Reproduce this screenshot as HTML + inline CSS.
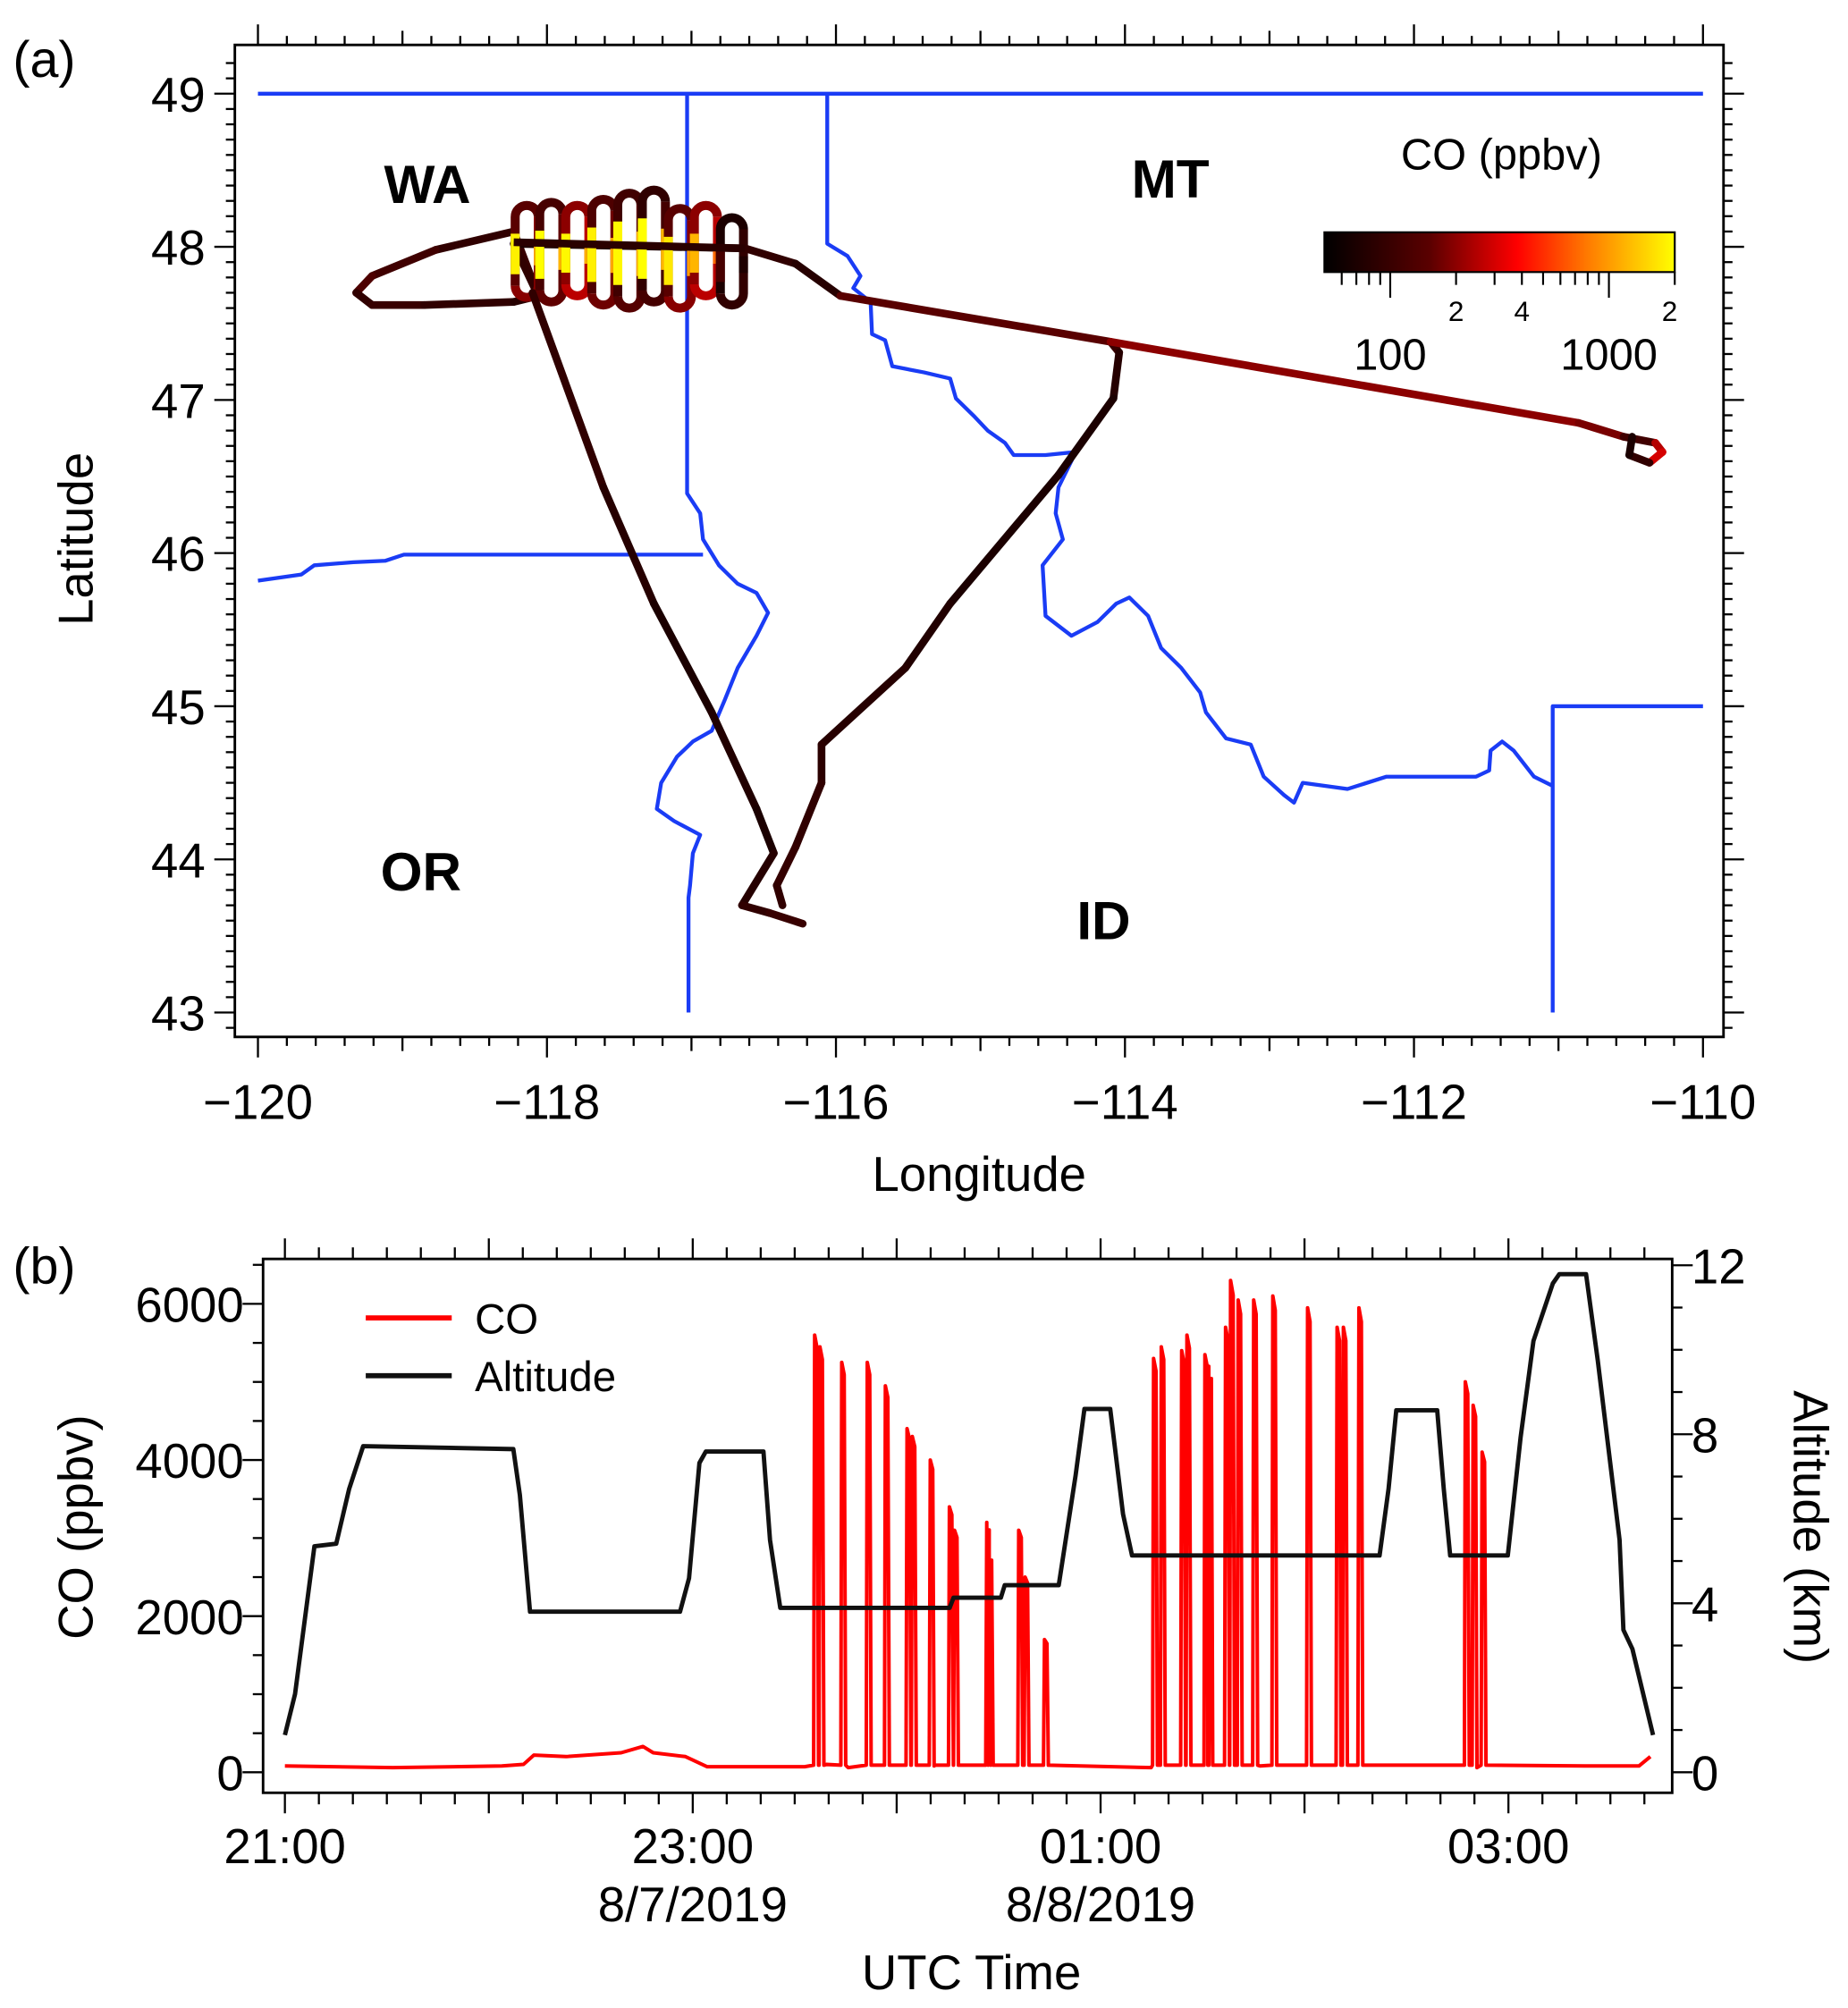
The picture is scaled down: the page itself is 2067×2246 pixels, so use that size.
<!DOCTYPE html>
<html><head><meta charset="utf-8"><style>
html,body{margin:0;padding:0;background:#fff;}
svg{display:block;font-family:"Liberation Sans",sans-serif;}
</style></head><body>
<svg id="fig" width="2067" height="2246" viewBox="0 0 1440 1564.7" xmlns="http://www.w3.org/2000/svg">
<rect width="1440" height="1564.7" fill="#fff"/>
<defs>
<linearGradient id="cmap" x1="0" x2="1" y1="0" y2="0">
<stop offset="0" stop-color="#000"/><stop offset="0.3" stop-color="#5a0000"/><stop offset="0.55" stop-color="#ff0000"/><stop offset="0.75" stop-color="#ff7a00"/><stop offset="1" stop-color="#ffff00"/>
</linearGradient>
<clipPath id="clipA"><rect x="183" y="35" width="1160" height="773"/></clipPath>
<clipPath id="clipB"><rect x="205" y="981" width="1098" height="416"/></clipPath>
</defs>
<g id="panelA"></g>
<g id="panelB"></g>
</svg>
<script>
// ===== Panel (a) data =====
const xTickLons = [-120,-118,-116,-114,-112,-110];
const yTickLats = [43,44,45,46,47,48,49];
const border49Lon = [-120,-110];
const border49Lat = [49,49];
const waIdLon = [-117.03,-117.03,-116.94,-116.92,-116.81,-116.68,-116.55,-116.47,-116.55,-116.68,-116.77,-116.86,-116.99,-117.10,-117.21,-117.24,-117.12,-116.94,-116.99,-117.01,-117.02,-117.02];
const waIdLat = [49,46.39,46.26,46.09,45.92,45.80,45.74,45.61,45.46,45.25,45.04,44.84,44.77,44.67,44.50,44.33,44.25,44.16,44.04,43.83,43.75,43.0];
const orWaLon = [-120,-119.70,-119.61,-119.34,-119.12,-118.99,-116.92];
const orWaLat = [45.82,45.86,45.92,45.94,45.95,45.99,45.99];
const idMtLon = [-116.06,-116.06,-115.92,-115.83,-115.88,-115.76,-115.75,-115.66,-115.61,-115.39,-115.21,-115.17,-115.04,-114.95,-114.83,-114.77,-114.55,-114.34,-114.46,-114.48,-114.43,-114.57,-114.55,-114.37,-114.19,-114.06,-113.97,-113.84,-113.75,-113.61,-113.48,-113.44,-113.30,-113.13,-113.04,-112.90,-112.83,-112.77,-112.46,-112.19,-111.93,-111.57,-111.48,-111.47,-111.39,-111.31,-111.17,-111.04];
const idMtLat = [49,48.02,47.94,47.81,47.73,47.64,47.43,47.39,47.22,47.18,47.14,47.01,46.89,46.80,46.72,46.64,46.64,46.66,46.43,46.26,46.09,45.92,45.59,45.46,45.55,45.67,45.71,45.59,45.38,45.25,45.09,44.96,44.79,44.75,44.54,44.42,44.37,44.50,44.46,44.54,44.54,44.54,44.58,44.71,44.77,44.71,44.54,44.48];
const wyLon = [-111.04,-111.04,-110];
const wyLat = [43.0,45.0,45.0];
const westDiagLon = [-118.10,-117.61,-117.26,-116.86,-116.55,-116.43,-116.65,-116.46,-116.23];
const westDiagLat = [47.70,46.43,45.67,44.96,44.33,44.04,43.70,43.65,43.58];
const westDiagCO = [90,80,70,75,70,80,90,100,250];
const eastLon = [-116.63,-116.28,-115.97,-114.10,-110.86,-110.55,-110.33,-110.28,-110.37,-110.51,-110.49];
const eastLat = [47.99,47.89,47.68,47.38,46.85,46.76,46.72,46.66,46.59,46.64,46.76];
const eastCO = [90,80,150,200,180,110,250,300,90,70,80];
const southLon = [-114.10,-114.04,-114.08,-114.46,-115.21,-115.52,-116.10,-116.10,-116.28,-116.41,-116.37];
const southLat = [47.38,47.31,47.01,46.51,45.67,45.25,44.75,44.50,44.08,43.83,43.70];
const southCO = [100,80,70,70,75,80,85,90,95,90,90];
const westLoopLon = [-118.06,-118.23,-118.77,-119.21,-119.32,-119.21,-118.85,-118.23,-118.06,-118.23,-116.63];
const westLoopLat = [47.68,48.10,47.98,47.81,47.70,47.62,47.62,47.64,47.68,48.02,47.99];
const westLoopCO = [100,90,110,130,90,100,90,80,90,70,60];
const loopLon = [-118.14,-117.97,-117.79,-117.61,-117.43,-117.26,-117.08,-116.90,-116.72];
const loopTopLat = [48.27,48.29,48.27,48.31,48.35,48.37,48.25,48.27,48.19];
const loopBotLat = [47.67,47.64,47.68,47.62,47.60,47.64,47.60,47.68,47.62];
const loopCOIn = [1800,2000,1900,1800,1900,2000,1700,1200,120];
const loopCOOut = [150,120,200,130,110,90,150,200,70];

// ===== Panel (b) data =====
const timeTickHours = [0,2,4,6];
const timeTickLabels = ["21:00","23:00","01:00","03:00"];
const dateLabels = ["","8/7/2019","8/8/2019",""];
const coTicks = [0,2000,4000,6000];
const altTicks = [0,4,8,12];
const altHours = [0,0.050,0.145,0.252,0.315,0.384,1.120,1.152,1.202,1.938,1.982,2.033,2.064,2.347,2.379,2.429,3.260,3.279,3.511,3.530,3.795,3.877,3.921,4.047,4.110,4.154,5.368,5.412,5.450,5.651,5.683,5.714,5.997,6.060,6.123,6.218,6.249,6.381,6.438,6.545,6.564,6.608,6.709];
const altKm = [0.88,1.85,5.35,5.41,6.71,7.72,7.65,6.56,3.80,3.80,4.59,7.32,7.59,7.59,5.50,3.89,3.89,4.13,4.13,4.43,4.43,7.02,8.60,8.60,6.11,5.13,5.13,6.71,8.57,8.57,6.71,5.13,5.13,7.93,10.21,11.57,11.79,11.79,9.75,5.50,3.37,2.92,0.88];
const coBaseHours = [0,0.529,1.064,1.170,1.221,1.378,1.649,1.756,1.806,1.964,2.071,2.549,2.656,2.763,3.184,4.248,4.783,5.846,6.375,6.640,6.696];
const coBase = [80,60,80,100,220,200,250,330,250,200,70,70,100,60,80,60,80,60,80,80,200];
const spikeHours = [2.605,2.631,2.738,2.863,2.952,3.058,3.084,3.172,3.266,3.291,3.449,3.461,3.606,3.637,3.732,4.267,4.305,4.405,4.431,4.519,4.538,4.620,4.645,4.682,4.758,4.852,5.022,5.167,5.198,5.274,5.796,5.834,5.878];
const spikePeaks = [5600,5450,5250,5250,4950,4400,4300,4000,3400,3100,3200,2800,3100,2500,1700,5300,5450,5400,5600,5350,5200,5700,6300,6050,6050,6100,5950,5700,5700,5950,5000,4700,4100];

const NS = "http://www.w3.org/2000/svg";
function mk(tag, attrs, parent){const e=document.createElementNS(NS,tag);for(const k in attrs)e.setAttribute(k,attrs[k]);parent.appendChild(e);return e;}
function txt(s, attrs, parent){const e=mk('text',attrs,parent);e.textContent=s;return e;}

// ---------- Panel A ----------
const A = document.getElementById('panelA');
const xA = lon => 201 + (lon+120)*112.6;
const yA = lat => 73 + (49-lat)*119.33;
function cmap(v){
  const t=Math.max(0,Math.min(1,(Math.log10(v)-Math.log10(50))/(Math.log10(2000)-Math.log10(50))));
  const stops=[[0,[0,0,0]],[0.3,[90,0,0]],[0.55,[255,0,0]],[0.75,[255,122,0]],[1,[255,255,0]]];
  for(let i=1;i<stops.length;i++){if(t<=stops[i][0]){const a=stops[i-1],b=stops[i];const f=(t-a[0])/(b[0]-a[0]);const c=a[1].map((x,j)=>Math.round(x+(b[1][j]-x)*f));return `rgb(${c[0]},${c[1]},${c[2]})`;}}
  return 'rgb(255,255,0)';
}
const gA = mk('g',{'clip-path':'url(#clipA)'},A);
function blueLine(lons,lats,name){
  const p=lons.map((l,i)=>(i?'L':'M')+xA(l).toFixed(1)+','+yA(lats[i]).toFixed(1)).join('');
  const e=mk('path',{d:p,fill:'none',stroke:'#1a3cf5','stroke-width':3,'stroke-linejoin':'round'},gA);
  
  
}
blueLine(border49Lon,border49Lat,'border-49th-parallel');
blueLine(waIdLon,waIdLat,'border-wa-id');
blueLine(orWaLon,orWaLat,'border-or-wa');
blueLine(idMtLon,idMtLat,'border-id-mt');
blueLine(wyLon,wyLat,'border-id-wy');

function track(lons,lats,cos,name){
  const g=mk('g',{},gA);
  
  
  for(let i=0;i<lons.length-1;i++){
    mk('line',{x1:xA(lons[i]),y1:yA(lats[i]),x2:xA(lons[i+1]),y2:yA(lats[i+1]),stroke:cmap(cos[i]),'stroke-width':6,'stroke-linecap':'round'},g);
  }
}
track(westLoopLon,westLoopLat,westLoopCO,'flight-track-west-loop');
const gl=mk('g',{},gA);


loopLon.forEach((lon,i)=>{
  const x=xA(lon), yt=yA(loopTopLat[i]), yb=yA(loopBotLat[i]), w=9;
  mk('path',{d:`M${x-w},${yb-w} L${x-w},${yt+w} A${w},${w} 0 0 1 ${x+w},${yt+w}`,fill:'none',stroke:cmap(loopCOOut[i]),'stroke-width':7},gl);
  mk('path',{d:`M${x+w},${yt+w} L${x+w},${yb-w} A${w},${w} 0 0 1 ${x-w},${yb-w}`,fill:'none',stroke:cmap(loopCOOut[i]*1.3),'stroke-width':7},gl);
  mk('line',{x1:x-w,y1:yt+22,x2:x-w,y2:yb-18,stroke:cmap(loopCOIn[i]),'stroke-width':7},gl);
  mk('line',{x1:x+w,y1:yt+30,x2:x+w,y2:yb-25,stroke:cmap(loopCOIn[i]*0.6),'stroke-width':7},gl);
});
track(westDiagLon,westDiagLat,westDiagCO,'flight-track-southwest');
track(southLon,southLat,southCO,'flight-track-south');
track(eastLon,eastLat,eastCO,'flight-track-east');
mk('line',{x1:xA(-118.23),y1:yA(48.03),x2:xA(-116.63),y2:yA(47.99),stroke:'#2a0000','stroke-width':6},gA);

const frA=mk('rect',{x:183,y:35,width:1160,height:773,fill:'none',stroke:'#000','stroke-width':2},A);


const tA=mk('g',{stroke:'#000','stroke-width':1.6},A);
for(let k=0;k<=50;k++){const lon=-120+k*0.2;const x=xA(lon);const maj=Math.abs(lon-Math.round(lon))<1e-6;const len=maj?(Math.round(lon)%2===0?16:11):7;
  mk('line',{x1:x,y1:808,x2:x,y2:808+len},tA);mk('line',{x1:x,y1:35,x2:x,y2:35-len},tA);}
for(let k=-3;k<=62;k++){const lat=43+k*0.1;const y=yA(lat);if(y<36||y>807)continue;const maj=Math.abs(lat-Math.round(lat))<1e-6;const len=maj?16:7;
  mk('line',{x1:183,y1:y,x2:183-len,y2:y},tA);mk('line',{x1:1343,y1:y,x2:1343+len,y2:y},tA);}
xTickLons.forEach(l=>{const e=txt(String(l).replace('-','\u2212'),{x:xA(l),y:872,'font-size':38,'text-anchor':'middle'},A);});
yTickLats.forEach(l=>{const e=txt(String(l),{x:160,y:yA(l)+14,'font-size':38,'text-anchor':'end'},A);});
txt('Longitude',{x:763,y:928,'font-size':38,'text-anchor':'middle',},A);
txt('Latitude',{x:0,y:0,'font-size':38,'text-anchor':'middle',transform:'translate(72,420) rotate(-90)',},A);
txt('(a)',{x:10,y:60,'font-size':40,},A);
[['WA',333,158],['MT',912,154],['OR',328,694],['ID',860,732]].forEach(s=>{const e=txt(s[0],{x:s[1],y:s[2],'font-size':42,'font-weight':'bold','text-anchor':'middle'},A);});
const cb=mk('g',{},A);
txt('CO (ppbv)',{x:1170,y:132,'font-size':34,'text-anchor':'middle'},cb);
mk('rect',{x:1032,y:181,width:273,height:31,fill:'url(#cmap)',stroke:'#000','stroke-width':1.5},cb);
const cbx=v=>1032+(Math.log10(v)-Math.log10(50))/(Math.log10(2000)-Math.log10(50))*273;
[60,70,80,90,100,200,300,400,500,600,700,800,900,1000,2000].forEach(v=>{const maj=(v===100||v===1000);mk('line',{x1:cbx(v),y1:212,x2:cbx(v),y2:212+(maj?20:10),stroke:'#000','stroke-width':1.5},cb);});
txt('100',{x:cbx(100),y:288,'font-size':34,'text-anchor':'middle'},cb);
txt('1000',{x:cbx(1000),y:288,'font-size':34,'text-anchor':'middle'},cb);
txt('2',{x:cbx(200),y:250,'font-size':22,'text-anchor':'middle'},cb);
txt('4',{x:cbx(400),y:250,'font-size':22,'text-anchor':'middle'},cb);
txt('2',{x:cbx(2000)-4,y:250,'font-size':22,'text-anchor':'middle'},cb);

// ---------- Panel B ----------
const B=document.getElementById('panelB');
const xB=h=>222+h*158.9;
const yCO=v=>1381-v*0.06083;
const yAlt=k=>1381-k*32.92;
const gB=mk('g',{'clip-path':'url(#clipB)'},B);
let pts=[];
coBaseHours.forEach((h,i)=>pts.push([h,coBase[i]]));
const w=0.012;
spikeHours.forEach((h,i)=>{pts.push([h-w,90]);pts.push([h-w*0.6,spikePeaks[i]]);pts.push([h+w*0.4,spikePeaks[i]*0.97]);pts.push([h+w,90]);});
pts.sort((a,b)=>a[0]-b[0]);
const coPath=pts.map((p,i)=>(i?'L':'M')+xB(p[0]).toFixed(1)+','+yCO(p[1]).toFixed(1)).join('');
const coEl=mk('path',{d:coPath,fill:'none',stroke:'#ff0000','stroke-width':2.8,'stroke-linejoin':'round'},gB);


const altPath=altHours.map((h,i)=>(i?'L':'M')+xB(h).toFixed(1)+','+yAlt(altKm[i]).toFixed(1)).join('');
const altEl=mk('path',{d:altPath,fill:'none',stroke:'#111','stroke-width':3.4,'stroke-linejoin':'round'},gB);



const frB=mk('rect',{x:205,y:981,width:1098,height:416,fill:'none',stroke:'#000','stroke-width':2},B);


const tB=mk('g',{stroke:'#000','stroke-width':1.6},B);
for(let k=-1;k<=6*7;k++){const h=k/6;const x=xB(h);if(x<206||x>1302)continue;const len=(k%6===0)?16:9;
  mk('line',{x1:x,y1:1397,x2:x,y2:1397+len},tB);mk('line',{x1:x,y1:981,x2:x,y2:981-len},tB);}
for(let v=0;v<=6500;v+=500){const y=yCO(v);if(y<982)continue;const len=(v%2000===0)?16:8;mk('line',{x1:205,y1:y,x2:205-len,y2:y},tB);}
for(let k=0;k<=12;k++){const y=yAlt(k);const len=(k%4===0)?16:8;mk('line',{x1:1303,y1:y,x2:1303+len,y2:y},tB);}
timeTickHours.forEach((h,i)=>{const e=txt(timeTickLabels[i],{x:xB(h),y:1452,'font-size':38,'text-anchor':'middle'},B);
  if(dateLabels[i]){const d=txt(dateLabels[i],{x:xB(h),y:1497,'font-size':38,'text-anchor':'middle'},B);}});
coTicks.forEach(v=>{const e=txt(String(v),{x:190,y:yCO(v)+14,'font-size':38,'text-anchor':'end'},B);});
altTicks.forEach(v=>{const e=txt(String(v),{x:1318,y:yAlt(v)+14,'font-size':38,'text-anchor':'start'},B);});
txt('UTC Time',{x:757,y:1550,'font-size':38,'text-anchor':'middle',},B);
txt('CO (ppbv)',{x:0,y:0,'font-size':38,'text-anchor':'middle',transform:'translate(72,1190) rotate(-90)',},B);
txt('Altitude (km)',{x:0,y:0,'font-size':38,'text-anchor':'middle',transform:'translate(1398,1190) rotate(90)',},B);
txt('(b)',{x:10,y:1000,'font-size':40,},B);
const lg=mk('g',{},B);
mk('line',{x1:285,y1:1027,x2:352,y2:1027,stroke:'#ff0000','stroke-width':4},lg);
txt('CO',{x:370,y:1039,'font-size':33},lg);
mk('line',{x1:285,y1:1072,x2:352,y2:1072,stroke:'#111','stroke-width':4},lg);
txt('Altitude',{x:370,y:1084,'font-size':33},lg);
</script>
</body></html>
